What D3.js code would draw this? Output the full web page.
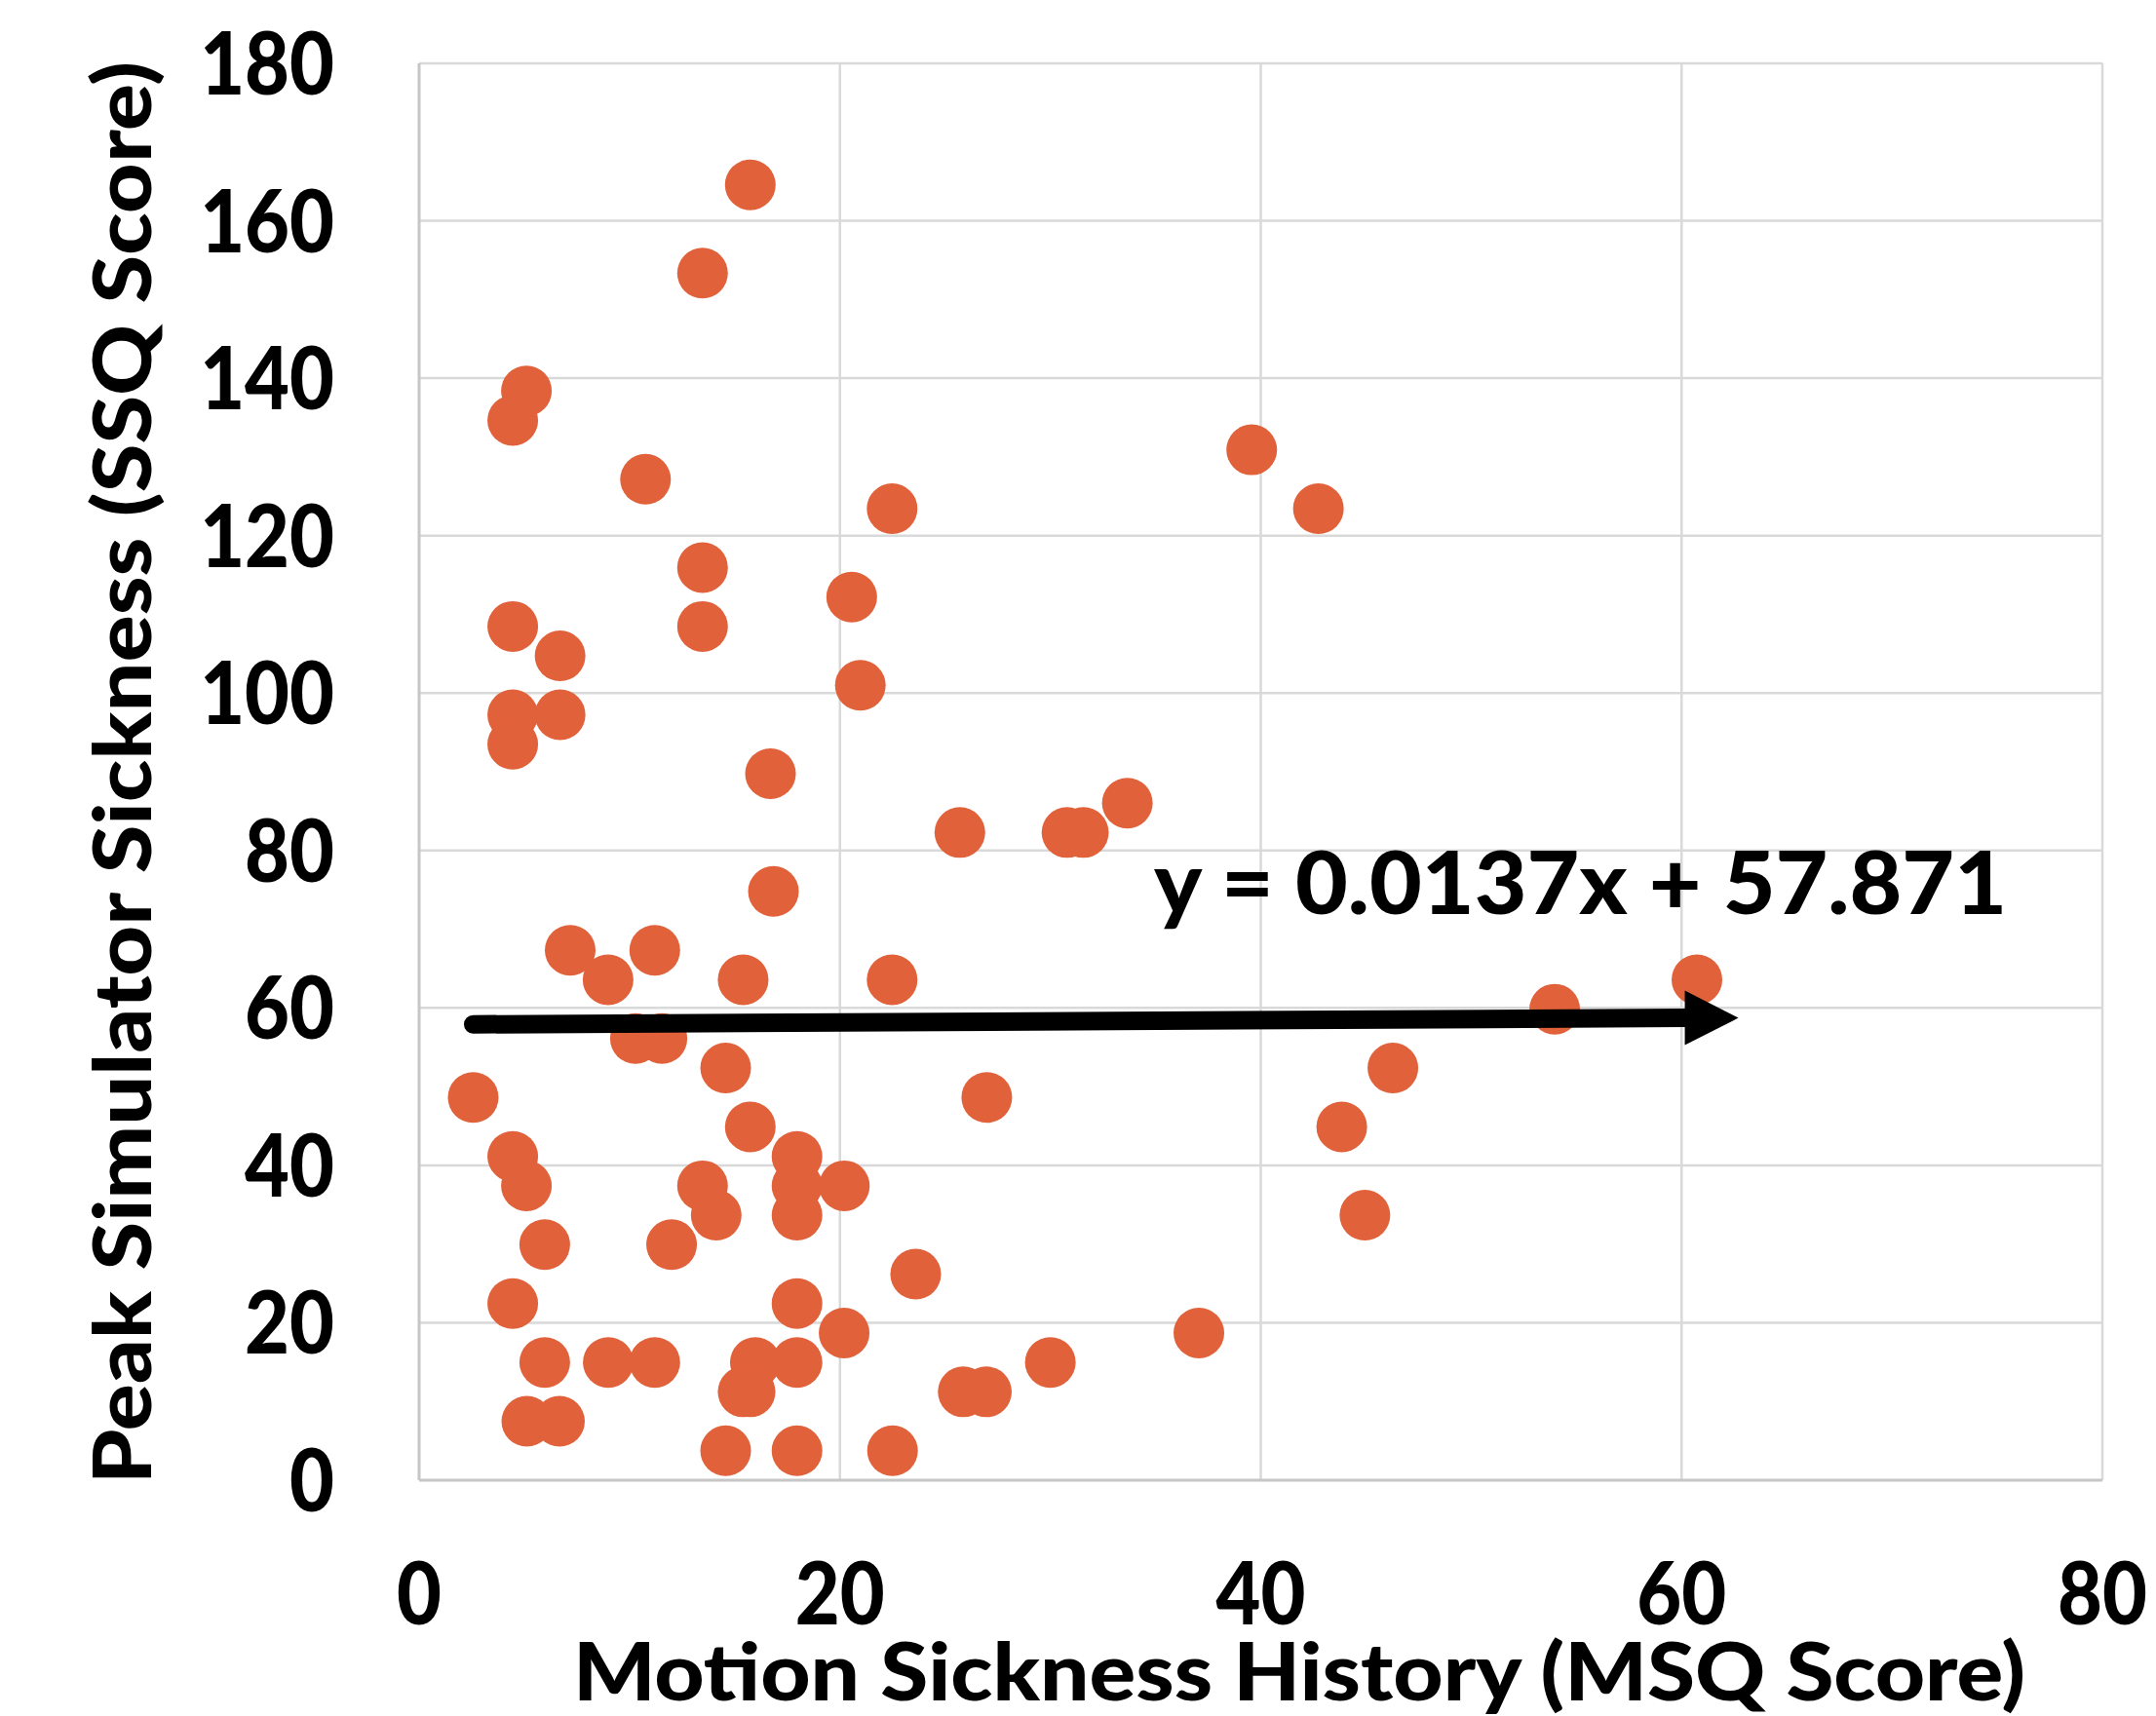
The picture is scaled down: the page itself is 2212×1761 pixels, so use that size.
<!DOCTYPE html>
<html>
<head>
<meta charset="utf-8">
<script src="https://cdn.jsdelivr.net/npm/d3@7"></script>
<style>
  body { margin: 0; background: #fff; }
  text { font-family: "Lato", "Open Sans", sans-serif; font-weight: 900; fill: #000; }
</style>
</head>
<body>
<div id="chart"></div>
<script>
// MSQ score (x) and peak SSQ score (y)
var msq = [15.74, 13.47, 5.10, 4.45, 39.57, 10.76, 22.48, 42.74, 13.47, 20.56,
           4.45, 13.47, 6.70, 20.97, 4.45, 6.70, 4.45, 16.70, 33.66, 25.70,
           30.79, 31.57, 16.84, 7.18, 11.20, 8.98, 15.40, 22.48, 60.73, 53.97,
           10.28, 11.54, 14.57, 46.28, 2.57, 26.98, 15.74, 43.85, 4.45, 17.96,
           5.10, 13.47, 17.96, 20.21, 14.12, 17.96, 44.95, 5.97, 12.00, 23.60,
           4.45, 17.96, 20.20, 37.06, 5.97, 8.99, 11.20, 15.98, 17.96, 30.00,
           15.40, 15.73, 25.86, 26.96, 5.12, 6.67, 14.57, 17.96, 22.50];
var ssq = [164.56, 153.34, 138.38, 134.64, 130.90, 127.16, 123.42, 123.42, 115.94, 112.20,
           108.46, 108.46, 104.72, 100.98, 97.24, 97.24, 93.50, 89.76, 86.02, 82.28,
           82.28, 82.28, 74.80, 67.32, 67.32, 63.58, 63.58, 63.58, 63.58, 59.84,
           56.10, 56.10, 52.36, 52.36, 48.62, 48.62, 44.88, 44.88, 41.14, 41.14,
           37.40, 37.40, 37.40, 37.40, 33.66, 33.66, 33.66, 29.92, 29.92, 26.18,
           22.44, 22.44, 18.70, 18.70, 14.96, 14.96, 14.96, 14.96, 14.96, 14.96,
           11.22, 11.22, 11.22, 11.22, 7.48, 7.48, 3.74, 3.74, 3.74];

var xTicks = [0, 20, 40, 60, 80];
var yTicks = [0, 20, 40, 60, 80, 100, 120, 140, 160, 180];

// linear trend line
var trendSlope = 0.0137, trendIntercept = 57.871, trendXEnd = 62.7;
var trendLabel = "y = 0.0137x + 57.871";

var width = 2212, height = 1761;
var margin = {left: 430, right: 55, top: 65, bottom: 242};

var svg = d3.select("#chart").append("svg")
    .attr("width", width).attr("height", height);

var x = d3.scaleLinear().domain([0, 80]).range([margin.left, width - margin.right]);
var y = d3.scaleLinear().domain([0, 180]).range([height - margin.bottom, margin.top]);

var points = msq.map(function(d, i) { return {x: d, y: ssq[i]}; });

// gridlines
svg.append("g").selectAll("line.h")
  .data(yTicks.slice(1))
  .enter().append("line")
    .attr("x1", x(0)).attr("x2", x(80))
    .attr("y1", function(d) { return y(d); }).attr("y2", function(d) { return y(d); })
    .attr("stroke", "#d9d9d9").attr("stroke-width", 2.5);

svg.append("g").selectAll("line.v")
  .data(xTicks.slice(1))
  .enter().append("line")
    .attr("y1", y(0)).attr("y2", y(180))
    .attr("x1", function(d) { return x(d); }).attr("x2", function(d) { return x(d); })
    .attr("stroke", "#d9d9d9").attr("stroke-width", 2.5);

// axis lines
svg.append("line")
    .attr("x1", x(0)).attr("x2", x(0)).attr("y1", y(0)).attr("y2", y(180))
    .attr("stroke", "#c6c6c6").attr("stroke-width", 3);
svg.append("line")
    .attr("x1", x(0)).attr("x2", x(80)).attr("y1", y(0)).attr("y2", y(0))
    .attr("stroke", "#c6c6c6").attr("stroke-width", 3);

// dots
svg.append("g").selectAll("circle")
  .data(points)
  .enter().append("circle")
    .attr("cx", function(d) { return x(d.x); })
    .attr("cy", function(d) { return y(d.y); })
    .attr("r", 26)
    .attr("fill", "#e1613a");

// trend line with arrow
var x0 = d3.min(msq);
var tipX = x(trendXEnd), tipY = y(trendSlope * trendXEnd + trendIntercept);
var headLen = 55, headHalf = 28;
svg.append("line")
    .attr("x1", x(x0)).attr("y1", y(trendSlope * x0 + trendIntercept))
    .attr("x2", tipX - headLen).attr("y2", tipY)
    .attr("stroke", "#000").attr("stroke-width", 19).attr("stroke-linecap", "round");
svg.append("path")
    .attr("d", "M" + tipX + "," + tipY +
               "L" + (tipX - headLen) + "," + (tipY - headHalf) +
               "L" + (tipX - headLen) + "," + (tipY + headHalf) + "Z")
    .attr("fill", "#000");

svg.append("text")
    .attr("x", 1184).attr("y", 938)
    .attr("font-size", 90)
    .attr("textLength", 875).attr("lengthAdjust", "spacingAndGlyphs")
    .text(trendLabel);

// tick labels (a bit narrower, like the original face)
function squeeze(sel) {
  sel.each(function() {
    var w = this.getComputedTextLength();
    d3.select(this).attr("textLength", w * 0.88).attr("lengthAdjust", "spacingAndGlyphs");
  });
}

svg.append("g").selectAll("text")
  .data(yTicks)
  .enter().append("text")
    .attr("x", 343)
    .attr("y", function(d) { return y(d) + 32; })
    .attr("text-anchor", "end")
    .attr("font-size", 90)
    .text(function(d) { return d; })
    .call(squeeze);

svg.append("g").selectAll("text")
  .data(xTicks)
  .enter().append("text")
    .attr("x", function(d) { return x(d); })
    .attr("y", 1667)
    .attr("text-anchor", "middle")
    .attr("font-size", 90)
    .text(function(d) { return d; })
    .call(squeeze);

// axis titles
svg.append("text")
    .attr("x", 1333).attr("y", 1745)
    .attr("text-anchor", "middle")
    .attr("font-size", 81)
    .attr("textLength", 1490).attr("lengthAdjust", "spacingAndGlyphs")
    .text("Motion Sickness History (MSQ Score)");

svg.append("text")
    .attr("transform", "translate(155,793) rotate(-90)")
    .attr("text-anchor", "middle")
    .attr("font-size", 81)
    .attr("textLength", 1460).attr("lengthAdjust", "spacingAndGlyphs")
    .text("Peak Simulator Sickness (SSQ Score)");
</script>
</body>
</html>
